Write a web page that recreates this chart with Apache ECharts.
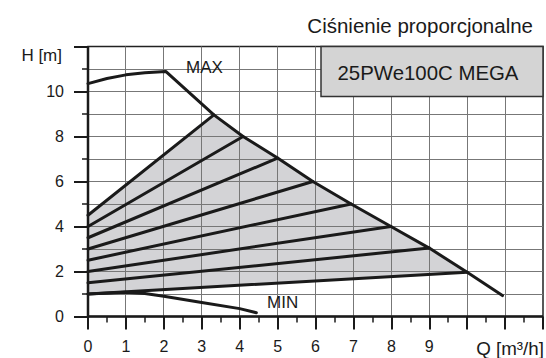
<!DOCTYPE html>
<html>
<head>
<meta charset="utf-8">
<script src="https://cdn.jsdelivr.net/npm/echarts@6/dist/echarts.min.js"></script>
<style>
  html, body { margin: 0; padding: 0; background: #fff; overflow: hidden; }
  #pump-chart { width: 546px; height: 358px; }
</style>
</head>
<body>
<div id="pump-chart"></div>
<script>
// Tick labels
const xTickLabels = ['0', '1', '2', '3', '4', '5', '6', '7', '8', '9'];
const yTickLabels = ['0', '2', '4', '6', '8', '10'];

// Axis ranges (Q in m3/h, H in m)
const qMax = 12;
const hMax = 12;

// Pump curves: [Q m3/h, H m]
const maxCurve = [
  [0, 10.35], [0.5, 10.58], [1, 10.74], [1.5, 10.83], [2.05, 10.89],
  [3.32, 8.96], [4.09, 8.0], [5.0, 7.04], [5.93, 6.0], [6.94, 5.0],
  [7.99, 4.0], [9.0, 3.04], [10.0, 1.97], [10.93, 0.93]
];
const minCurve = [
  [0, 1.0], [1, 1.08], [1.5, 1.02], [2, 0.9], [3, 0.62], [4, 0.35], [4.44, 0.17]
];

// Proportional-pressure control lines, from the H axis to the MAX curve
const propLine1 = [[0, 4.5], [3.32, 8.96]];
const propLine2 = [[0, 4.0], [4.09, 8.0]];
const propLine3 = [[0, 3.5], [5.0, 7.04]];
const propLine4 = [[0, 3.0], [5.93, 6.0]];
const propLine5 = [[0, 2.5], [6.94, 5.0]];
const propLine6 = [[0, 2.0], [7.99, 4.0]];
const propLine7 = [[0, 1.5], [9.0, 3.04]];
const propLine8 = [[0, 1.0], [10.0, 1.97]];
const propLines = [propLine1, propLine2, propLine3, propLine4,
                   propLine5, propLine6, propLine7, propLine8];

// Control range outline: top line, MAX curve segment, bottom line back
const topEnd = propLine1[propLine1.length - 1];
const botEnd = propLine8[propLine8.length - 1];
const rangeOutline = []
  .concat(propLine1)
  .concat(maxCurve.filter(p => p[0] > topEnd[0] && p[0] < botEnd[0]))
  .concat(propLine8.slice().reverse());

const FONT = '"Liberation Sans", Arial, Helvetica, sans-serif';
const INK = '#1a1a1a';
const GRID = '#777777';

const pumpChart = echarts.init(document.getElementById('pump-chart'), null, { renderer: 'svg' });

const crisp = v => Math.round(v - 0.5) + 0.5;

const lineSeries = (data) => ({
  type: 'line',
  data: data,
  showSymbol: false,
  symbol: 'none',
  smooth: false,
  z: 5,
  silent: true,
  lineStyle: { color: INK, width: 3, cap: 'round', join: 'round' }
});

// Unit grid, drawn above the shaded range and below the curves
function renderGrid(params, api) {
  const children = [];
  const y0 = api.coord([0, 0])[1];
  const y1 = api.coord([0, hMax])[1];
  const x0 = api.coord([0, 0])[0];
  const x1 = api.coord([qMax, 0])[0];
  for (let q = 1; q < qMax; q++) {
    const x = crisp(api.coord([q, 0])[0]);
    children.push({ type: 'line', shape: { x1: x, y1: y0, x2: x, y2: y1 },
                    style: { stroke: GRID, lineWidth: 1 } });
  }
  for (let h = 1; h < hMax; h++) {
    const y = crisp(api.coord([0, h])[1]);
    children.push({ type: 'line', shape: { x1: x0, y1: y, x2: x1, y2: y },
                    style: { stroke: GRID, lineWidth: 1 } });
  }
  return { type: 'group', children: children };
}

// Heavy Q and H axis lines
function renderAxes(params, api) {
  const o = api.coord([0, 0]);
  const xe = api.coord([qMax, 0]);
  const ye = api.coord([0, hMax]);
  return {
    type: 'group',
    children: [
      { type: 'line', shape: { x1: o[0], y1: o[1], x2: xe[0], y2: xe[1] },
        style: { stroke: INK, lineWidth: 2.5 } },
      { type: 'line', shape: { x1: o[0], y1: o[1] + 1, x2: ye[0], y2: ye[1] },
        style: { stroke: INK, lineWidth: 2.5 } }
    ]
  };
}

pumpChart.setOption({
  animation: false,
  backgroundColor: '#ffffff',
  grid: {
    left: 88, top: 46.5, right: 2, bottom: 41.5,
    show: true, borderColor: '#222', borderWidth: 1.5,
    backgroundColor: 'transparent'
  },
  xAxis: {
    type: 'value', min: 0, max: qMax, interval: 1,
    axisLine: { show: false },
    axisTick: { show: true, length: 13, lineStyle: { color: INK, width: 2 } },
    minorTick: { show: true, splitNumber: 2, length: 6, lineStyle: { color: INK, width: 1.5 } },
    splitLine: { show: false },
    minorSplitLine: { show: false },
    axisLabel: {
      margin: 22, fontFamily: FONT, fontSize: 16, color: INK,
      formatter: v => (xTickLabels[v] !== undefined ? xTickLabels[v] : '')
    }
  },
  yAxis: {
    type: 'value', min: 0, max: hMax, interval: 2,
    axisLine: { show: false },
    axisTick: { show: true, length: 14, lineStyle: { color: INK, width: 2 } },
    minorTick: { show: true, splitNumber: 2, length: 6, lineStyle: { color: INK, width: 1.5 } },
    splitLine: { show: false },
    minorSplitLine: { show: false },
    axisLabel: {
      margin: 24, fontFamily: FONT, fontSize: 16, color: INK,
      formatter: v => (yTickLabels[v / 2] !== undefined ? yTickLabels[v / 2] : '')
    }
  },
  series: [
    {
      type: 'custom',
      coordinateSystem: 'cartesian2d',
      data: [[0, 0]],
      z: 1,
      silent: true,
      renderItem: (params, api) => ({
        type: 'polygon',
        shape: { points: rangeOutline.map(p => api.coord(p)) },
        style: { fill: '#d3d3d6' }
      })
    },
    {
      type: 'custom',
      coordinateSystem: 'cartesian2d',
      data: [[0, 0]],
      z: 2,
      silent: true,
      renderItem: renderGrid
    },
    lineSeries(maxCurve),
    lineSeries(minCurve),
    ...propLines.map(p => lineSeries(p)),
    {
      type: 'custom',
      coordinateSystem: 'cartesian2d',
      data: [[0, 0]],
      z: 6,
      silent: true,
      renderItem: renderAxes
    }
  ],
  graphic: [
    {
      type: 'text', z: 10, x: 533, y: 25,
      style: { text: 'Ciśnienie proporcjonalne', font: '20.5px ' + FONT, fill: INK,
               align: 'right', verticalAlign: 'middle' }
    },
    {
      type: 'text', z: 10, x: 62, y: 55,
      style: { text: 'H [m]', font: '17px ' + FONT, fill: INK,
               align: 'right', verticalAlign: 'middle' }
    },
    {
      type: 'text', z: 10, x: 544, y: 348,
      style: { text: 'Q [m³/h]', font: '18.8px ' + FONT, fill: INK,
               align: 'right', verticalAlign: 'middle' }
    },
    {
      type: 'text', z: 10, x: 186, y: 67,
      style: { text: 'MAX', font: '17px ' + FONT, fill: INK,
               align: 'left', verticalAlign: 'middle' }
    },
    {
      type: 'text', z: 10, x: 267, y: 302.5,
      style: { text: 'MIN', font: '17px ' + FONT, fill: INK,
               align: 'left', verticalAlign: 'middle' }
    },
    {
      type: 'rect', z: 10,
      shape: { x: 321, y: 46.5, width: 222, height: 50 },
      style: { fill: '#d4d4d4', stroke: '#333', lineWidth: 1.5 }
    },
    {
      type: 'text', z: 11, x: 428, y: 72.5,
      style: { text: '25PWe100C MEGA', font: '20.4px ' + FONT, fill: INK,
               align: 'center', verticalAlign: 'middle' }
    }
  ]
});
</script>
</body>
</html>
